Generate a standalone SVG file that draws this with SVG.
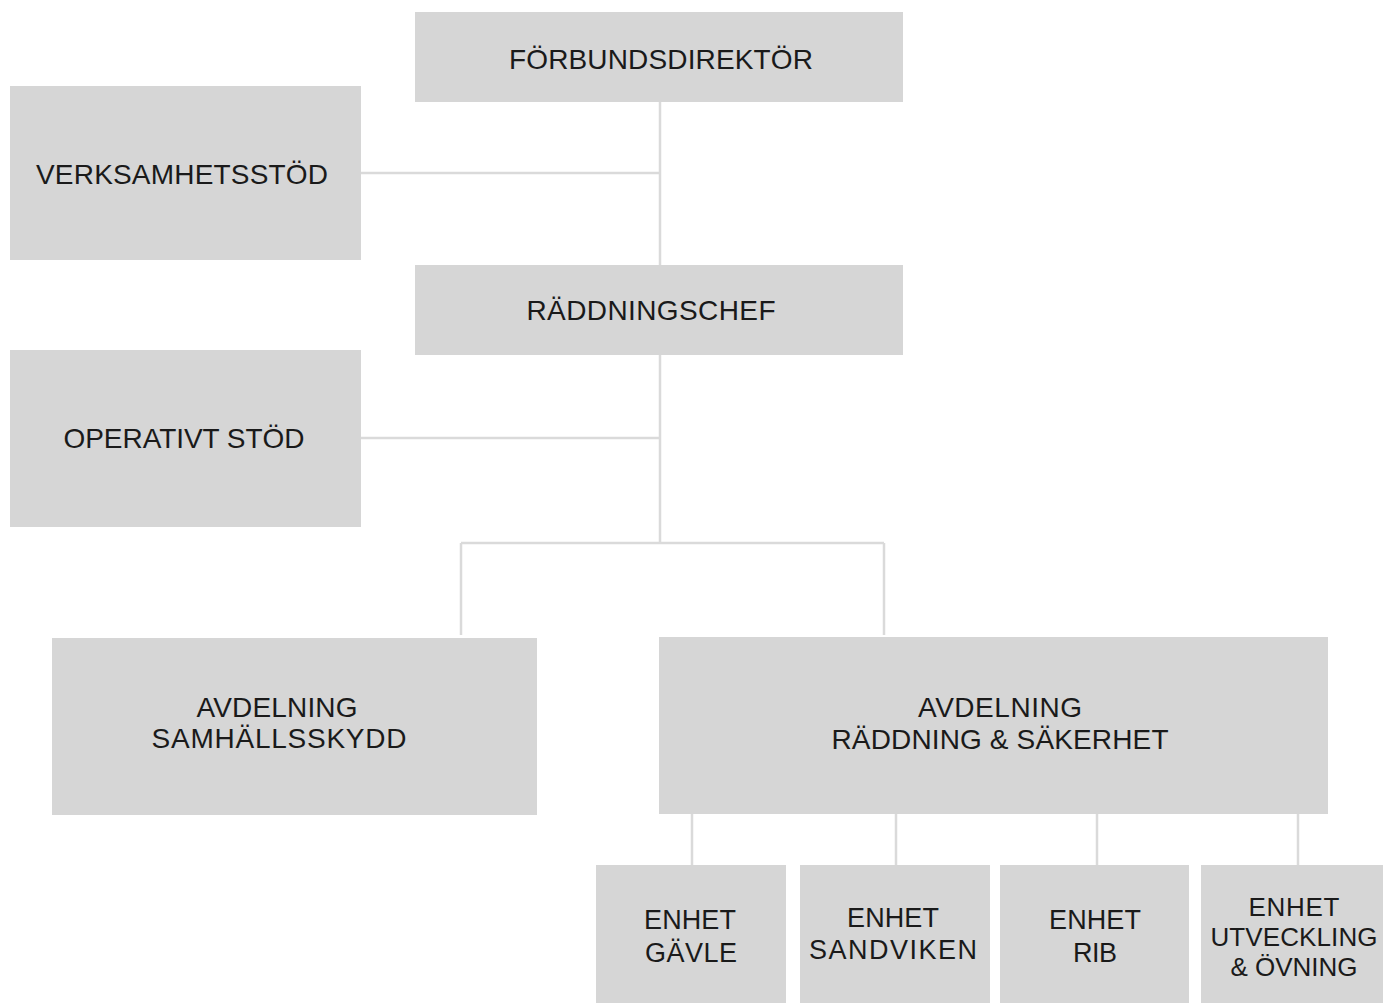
<svg xmlns="http://www.w3.org/2000/svg" width="1383" height="1003" viewBox="0 0 1383 1003">
<style>
.box{fill:#d6d6d6}
.t{font-family:"Liberation Sans",Arial,sans-serif;font-size:28px;fill:#1a1a1a;text-anchor:middle}
.s{font-size:27px}
.u{font-size:26px}
.ln{stroke:#dadada;stroke-width:2.5;fill:none}
</style>
<rect width="1383" height="1003" fill="#ffffff"/>
<g id="connectors" class="ln">
<path d="M660,102V265"/>
<path d="M361,173H660"/>
<path d="M660,355V543"/>
<path d="M361,438H660"/>
<path d="M461,543H884"/>
<path d="M461,543V635"/>
<path d="M884,543V635"/>
<path d="M692,814V865"/>
<path d="M896,814V865"/>
<path d="M1097,814V865"/>
<path d="M1298,814V865"/>
</g>
<g id="forbundsdirektor">
<rect class="box" x="415" y="12" width="488" height="90"/>
<text class="t" x="661" y="69" textLength="304">FÖRBUNDSDIREKTÖR</text>
</g>
<g id="verksamhetsstod">
<rect class="box" x="10" y="86" width="351" height="174"/>
<text class="t" x="182" y="184" textLength="292">VERKSAMHETSSTÖD</text>
</g>
<g id="raddningschef">
<rect class="box" x="415" y="265" width="488" height="90"/>
<text class="t" x="651" y="320" textLength="249">RÄDDNINGSCHEF</text>
</g>
<g id="operativt-stod">
<rect class="box" x="10" y="350" width="351" height="177"/>
<text class="t" x="184" y="448" textLength="241">OPERATIVT STÖD</text>
</g>
<g id="avdelning-samhallsskydd">
<rect class="box" x="52" y="638" width="485" height="177"/>
<text class="t" x="277" y="717" textLength="161">AVDELNING</text>
<text class="t" x="279" y="748" textLength="255">SAMHÄLLSSKYDD</text>
</g>
<g id="avdelning-raddning-sakerhet">
<rect class="box" x="659" y="637" width="669" height="177"/>
<text class="t" x="1000" y="717" textLength="164">AVDELNING</text>
<text class="t" x="1000" y="749" textLength="337">RÄDDNING &amp; SÄKERHET</text>
</g>
<g id="enhet-gavle">
<rect class="box" x="596" y="865" width="190" height="138"/>
<text class="t s" x="690" y="929" textLength="92">ENHET</text>
<text class="t s" x="691" y="962" textLength="92">GÄVLE</text>
</g>
<g id="enhet-sandviken">
<rect class="box" x="800" y="865" width="190" height="138"/>
<text class="t s" x="893" y="927" textLength="92">ENHET</text>
<text class="t s" x="893" y="959" textLength="168">SANDVIKEN</text>
</g>
<g id="enhet-rib">
<rect class="box" x="1000" y="865" width="189" height="138"/>
<text class="t s" x="1095" y="929" textLength="92">ENHET</text>
<text class="t s" x="1095" y="962" textLength="44">RIB</text>
</g>
<g id="enhet-utveckling-ovning">
<rect class="box" x="1201" y="865" width="182" height="138"/>
<text class="t u" x="1294" y="916" textLength="91">ENHET</text>
<text class="t u" x="1294" y="946" textLength="167">UTVECKLING</text>
<text class="t u" x="1294" y="976" textLength="127">&amp; ÖVNING</text>
</g>
</svg>
